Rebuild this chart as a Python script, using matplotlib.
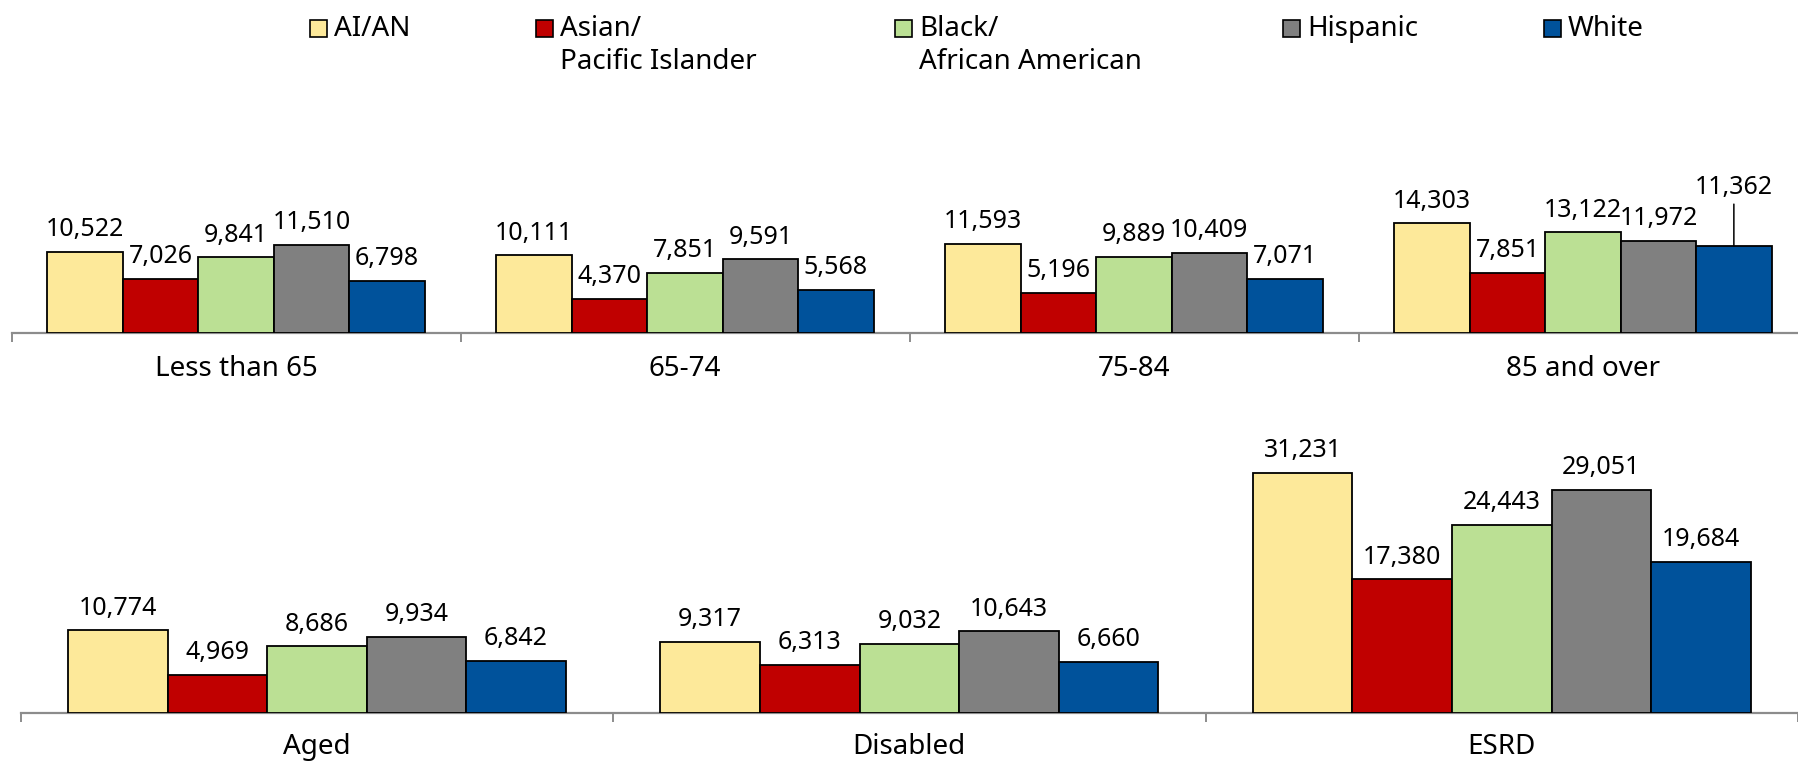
import numpy as np
import matplotlib.pyplot as plt
from matplotlib.patches import Rectangle

# data
races = ["AI/AN", "Asian/\nPacific Islander", "Black/\nAfrican American", "Hispanic", "White"]
colors = ["#FDE99A", "#C00000", "#BBE094", "#808080", "#00529B"]

age_groups = ["Less than 65", "65-74", "75-84", "85 and over"]
age_values = [
    [10522, 10111, 11593, 14303],  # AI/AN
    [7026, 4370, 5196, 7851],      # Asian/PI
    [9841, 7851, 9889, 13122],     # Black
    [11510, 9591, 10409, 11972],   # Hispanic
    [6798, 5568, 7071, 11362],     # White
]

status_groups = ["Aged", "Disabled", "ESRD"]
status_values = [
    [10774, 9317, 31231],
    [4969, 6313, 17380],
    [8686, 9032, 24443],
    [9934, 10643, 29051],
    [6842, 6660, 19684],
]

plt.rcParams['font.family'] = ['Noto Sans', 'DejaVu Sans']
FS = 18      # value labels
FS_CAT = 20  # category labels
FS_LEG = 20  # legend

W, H = 1798, 762
fig = plt.figure(figsize=(W / 100, H / 100), dpi=100)


def draw_panel(ax, groups, values, bar_w, pad, raised=None):
    n = len(groups)
    x = np.arange(n)
    for i, vals in enumerate(values):
        xs = x + (i - 2) * bar_w
        bars = ax.bar(xs, vals, width=bar_w, color=colors[i],
                      edgecolor='black', linewidth=1.3, zorder=3)
        for j, (b, v) in enumerate(zip(bars, vals)):
            xc = b.get_x() + b.get_width() / 2
            if raised is not None and (i, j) == raised[0]:
                # label pulled up with a leader line
                ax.annotate(f"{v:,}", xy=(xc, v), xytext=(0, raised[1]),
                            textcoords='offset points', ha='center', va='bottom',
                            fontsize=FS,
                            arrowprops=dict(arrowstyle='-', color='black', lw=1.1,
                                            shrinkA=1, shrinkB=0))
            else:
                ax.annotate(f"{v:,}", xy=(xc, v), xytext=(0, 7),
                            textcoords='offset points', ha='center', va='bottom',
                            fontsize=FS)
    for s in ['top', 'right', 'left']:
        ax.spines[s].set_visible(False)
    ax.spines['bottom'].set_color('#8c8c8c')
    ax.spines['bottom'].set_linewidth(1.6)
    ax.set_yticks([])
    ax.set_xticks(np.arange(n + 1) - 0.5)
    ax.set_xticklabels([])
    ax.tick_params(axis='x', which='major', length=6.5, width=1.4, color='#8c8c8c')
    ax.set_xticks(x, minor=True)
    ax.set_xticklabels(groups, minor=True, fontsize=FS_CAT)
    ax.tick_params(axis='x', which='minor', length=0, pad=pad)


# top panel (age groups)
ax1 = fig.add_axes([11.5 / W, (H - 332.5) / H, (W - 11.5) / W, 192.5 / H])
draw_panel(ax1, age_groups, age_values, 0.168, pad=16.5, raised=((4, 3), 33))
ax1.set_xlim(-0.5, -0.5 + (W - 11.5) / 449)
ax1.set_ylim(0, 25230)

# bottom panel (entitlement)
ax2 = fig.add_axes([20.6 / W, (H - 713.3) / H, (W - 20.6) / W, 313.3 / H])
draw_panel(ax2, status_groups, status_values, 0.168, pad=14)
ax2.set_xlim(-0.5, 2.5)
ax2.set_ylim(0, 40690)

# legend
leg_x = [310, 536, 895, 1283, 1544]
for lx, lab, c in zip(leg_x, races, colors):
    fig.add_artist(Rectangle((lx / W, (H - 37) / H), 17 / W, 17 / H,
                             facecolor=c, edgecolor='black', linewidth=1.2,
                             transform=fig.transFigure))
    fig.text((lx + 24) / W, (H - 15) / H, lab, fontsize=FS_LEG, va='top',
             ha='left', linespacing=1.23)

fig.savefig("out.png", dpi=100)
